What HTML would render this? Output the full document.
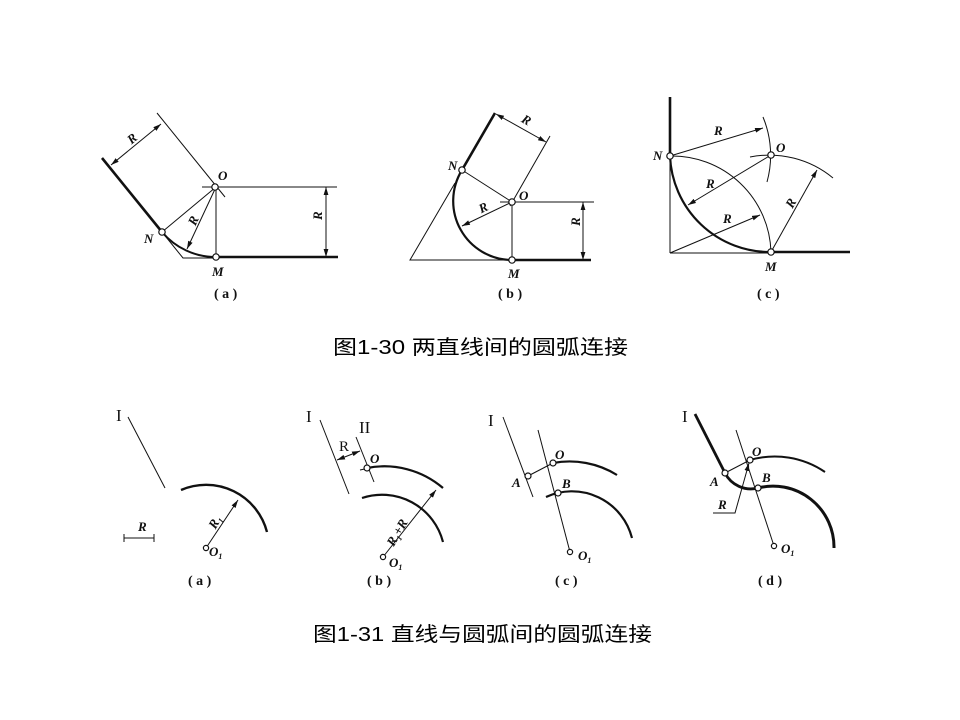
<!DOCTYPE html>
<html><head><meta charset="utf-8"><style>
html,body{margin:0;padding:0;background:#fff;}
svg{display:block;}
.t{font-family:"Liberation Serif",serif;font-style:italic;font-weight:bold;font-size:13px;fill:#111;}
.c{font-family:"Liberation Serif",serif;font-weight:bold;font-size:14px;fill:#111;}
.r{font-family:"Liberation Serif",serif;font-size:17px;fill:#111;}
.ti{font-family:"Liberation Sans","Noto Sans CJK SC",sans-serif;font-size:20px;fill:#000;}
</style></head><body>
<svg width="960" height="720" viewBox="0 0 960 720" xmlns="http://www.w3.org/2000/svg">
<defs><marker id="a" viewBox="0 0 10 6" refX="10" refY="3" markerWidth="8" markerHeight="5" orient="auto-start-reverse" markerUnits="userSpaceOnUse"><path d="M0,0L10,3L0,6z" fill="#111"/></marker></defs>
<g stroke="#111" fill="none" stroke-width="1">
<line x1="102" y1="158" x2="162" y2="232" stroke-width="2.6"/>
<line x1="157" y1="113" x2="225" y2="197"/>
<line x1="111" y1="165" x2="161" y2="124" marker-start="url(#a)" marker-end="url(#a)"/>
<line x1="202" y1="187" x2="337" y2="187"/>
<line x1="216" y1="187" x2="216" y2="257"/>
<line x1="216" y1="257" x2="338" y2="257" stroke-width="2.6"/>
<line x1="326" y1="187" x2="326" y2="257" marker-start="url(#a)" marker-end="url(#a)"/>
<line x1="216" y1="187" x2="162" y2="232"/>
<line x1="216" y1="187" x2="187" y2="249" marker-end="url(#a)"/>
<path d="M162,232 A70,70 0 0 0 216,257" stroke-width="2"/>
<polyline points="162,232 183,258 216,258"/>
<line x1="462" y1="170" x2="495" y2="113" stroke-width="2.6"/>
<line x1="550" y1="136" x2="510" y2="206"/>
<line x1="496" y1="114" x2="546" y2="142" marker-start="url(#a)" marker-end="url(#a)"/>
<line x1="462" y1="170" x2="512" y2="202"/>
<line x1="500" y1="202" x2="594" y2="202"/>
<line x1="512" y1="202" x2="512" y2="260"/>
<line x1="512" y1="260" x2="591" y2="260" stroke-width="2.6"/>
<line x1="583" y1="202" x2="583" y2="260" marker-start="url(#a)" marker-end="url(#a)"/>
<polyline points="455,183 410,260 512,260"/>
<path d="M462,170 A59,59 0 0 0 512,260" stroke-width="2.2"/>
<line x1="512" y1="202" x2="462" y2="226" marker-end="url(#a)"/>
<line x1="670" y1="97" x2="670" y2="156" stroke-width="2.6"/>
<line x1="670" y1="156" x2="670" y2="253"/>
<line x1="670" y1="253" x2="771" y2="253"/>
<line x1="771" y1="252" x2="850" y2="252" stroke-width="2.6"/>
<path d="M670,156 A100,100 0 0 0 771,252" stroke-width="2.2"/>
<path d="M670,156 A99,99 0 0 1 771,252"/>
<path d="M750,157 A100,100 0 0 1 833,178"/>
<path d="M763,117 A100,100 0 0 1 767,182"/>
<line x1="670" y1="156" x2="763" y2="128" marker-end="url(#a)"/>
<line x1="670" y1="253" x2="760" y2="215" marker-end="url(#a)"/>
<line x1="771" y1="155" x2="688" y2="205" marker-end="url(#a)"/>
<line x1="771" y1="252" x2="817" y2="170" marker-end="url(#a)"/>
<line x1="128" y1="417" x2="165" y2="488"/>
<path d="M181,490 A63,63 0 0 1 267,532" stroke-width="2.4"/>
<line x1="206" y1="548" x2="238" y2="500" marker-end="url(#a)"/>
<line x1="124" y1="538" x2="154" y2="538"/><line x1="124" y1="534" x2="124" y2="542"/><line x1="154" y1="534" x2="154" y2="542"/>
<line x1="320" y1="420" x2="349" y2="494"/>
<line x1="356" y1="437" x2="374" y2="482"/>
<line x1="337" y1="460" x2="360" y2="451" marker-start="url(#a)" marker-end="url(#a)"/>
<line x1="360" y1="470" x2="374" y2="467"/>
<path d="M367,468 A90,90 0 0 1 443,488" stroke-width="2.2"/>
<path d="M362,498 A63,63 0 0 1 443,542" stroke-width="2.2"/>
<line x1="383" y1="557" x2="436" y2="490" marker-end="url(#a)"/>
<line x1="503" y1="417" x2="533" y2="497"/>
<line x1="538" y1="430" x2="570" y2="552"/>
<line x1="528" y1="476" x2="553" y2="463"/>
<path d="M553,463 A90,90 0 0 1 617,475" stroke-width="2.2"/>
<path d="M546,497 A62,62 0 0 1 632,538" stroke-width="2.2"/>
<line x1="695" y1="414" x2="725" y2="473" stroke-width="2.8"/>
<line x1="736" y1="430" x2="774" y2="546"/>
<line x1="725" y1="473" x2="750" y2="460"/>
<path d="M725,473 A29,29 0 0 0 758,488" stroke-width="2.8"/>
<path d="M750,460 A89,89 0 0 1 825,472" stroke-width="2"/>
<path d="M758,488 A61,61 0 0 1 834,548" stroke-width="3"/>
<polyline points="713,513 735,513 749,463" marker-end="url(#a)"/>
</g>
<g fill="#fff" stroke="#111" stroke-width="1.2">
<circle cx="215" cy="187" r="3.2"/><circle cx="162" cy="232" r="3.2"/><circle cx="216" cy="257" r="3.2"/>
<circle cx="462" cy="170" r="3.2"/><circle cx="512" cy="202" r="3.2"/><circle cx="512" cy="260" r="3.2"/>
<circle cx="670" cy="156" r="3.2"/><circle cx="771" cy="155" r="3.2"/><circle cx="771" cy="252" r="3.2"/>
<circle cx="206" cy="548" r="2.6"/><circle cx="367" cy="468" r="3"/><circle cx="383" cy="557" r="2.6"/>
<circle cx="528" cy="476" r="3"/><circle cx="553" cy="463" r="3"/><circle cx="558" cy="493" r="3"/><circle cx="570" cy="552" r="2.6"/>
<circle cx="725" cy="473" r="3"/><circle cx="750" cy="460" r="3"/><circle cx="758" cy="488" r="3"/><circle cx="774" cy="546" r="2.6"/>
</g>
<g class="t">
<text x="218" y="180">O</text><text x="144" y="243">N</text><text x="212" y="276">M</text>
<text x="128" y="143" transform="rotate(-40 132 139)">R</text>
<text x="190" y="226" transform="rotate(-65 193 222)">R</text>
<text x="320" y="226" transform="rotate(-90 318 222)">R</text>
<text x="448" y="170">N</text><text x="519" y="200">O</text><text x="508" y="278">M</text>
<text x="522" y="124" transform="rotate(30 526 120)">R</text>
<text x="479" y="212" transform="rotate(-25 483 208)">R</text>
<text x="578" y="232" transform="rotate(-90 576 228)">R</text>
<text x="653" y="160">N</text><text x="776" y="152">O</text><text x="765" y="271">M</text>
<text x="714" y="135">R</text><text x="706" y="188">R</text><text x="723" y="223">R</text>
<text x="786" y="208" transform="rotate(-60 790 203)">R</text>
<text x="138" y="531">R</text>
<text x="208" y="527" transform="rotate(-60 214 522)">R<tspan font-size="8" dy="3">1</tspan></text>
<text x="209" y="556">O<tspan font-size="8" dy="3">1</tspan></text>
<text x="370" y="463">O</text>
<text x="378" y="540" transform="rotate(-60 392 530)">R<tspan font-size="8" dy="3">1</tspan><tspan dy="-3">+R</tspan></text>
<text x="389" y="567">O<tspan font-size="8" dy="3">1</tspan></text>
<text x="555" y="459">O</text><text x="562" y="488">B</text><text x="512" y="487">A</text>
<text x="578" y="560">O<tspan font-size="8" dy="3">1</tspan></text>
<text x="752" y="456">O</text><text x="762" y="482">B</text><text x="710" y="486">A</text><text x="718" y="509">R</text>
<text x="781" y="553">O<tspan font-size="8" dy="3">1</tspan></text>
</g>
<g class="r"><text x="116" y="421">I</text><text x="306" y="422">I</text><text x="359" y="433">II</text><text x="488" y="426">I</text><text x="682" y="422">I</text></g>
<text x="339" y="451" font-family="Liberation Serif,serif" font-size="15" fill="#111">R</text>
<g class="c"><text x="214" y="298">( a )</text><text x="498" y="298">( b )</text><text x="757" y="298">( c )</text>
<text x="188" y="585">( a )</text><text x="367" y="585">( b )</text><text x="555" y="585">( c )</text><text x="758" y="585">( d )</text></g>
<text class="ti" x="333" y="354" textLength="295" lengthAdjust="spacingAndGlyphs">图1-30  两直线间的圆弧连接</text>
<text class="ti" x="313" y="641" textLength="339" lengthAdjust="spacingAndGlyphs">图1-31  直线与圆弧间的圆弧连接</text>
</svg>
</body></html>
